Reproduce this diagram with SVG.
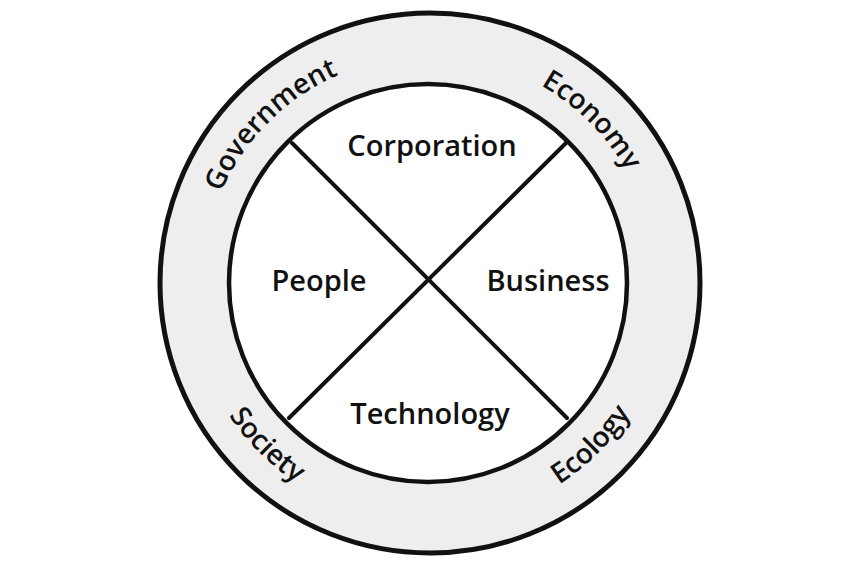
<svg xmlns="http://www.w3.org/2000/svg" width="856" height="571" viewBox="0 0 856 571">
  <style>
    .lbl { font-family: "Open Sans", "Noto Sans", "Liberation Sans", sans-serif; font-weight: 600; font-size: 29px; fill: #111; }
    .rl { font-size: 28px; }
    .ring { fill: #eeeeee; stroke: #111; stroke-width: 5; }
    .inner { fill: #ffffff; stroke: #111; stroke-width: 4.5; }
    .conn { stroke: #111; stroke-width: 4; stroke-linecap: round; fill: none; }
  </style>
  <defs>
    <path id="arcGov" d="M 215.7 360.6 A 227 227 0 0 1 506.6 69.7"/>
    <path id="arcEco" d="M 351.4 69.7 A 227 227 0 0 1 642.3 360.6"/>
    <path id="arcSoc" d="M 203.5 200.9 A 240 240 0 0 0 511.1 508.5"/>
    <path id="arcEcol" d="M 346.9 508.5 A 240 240 0 0 0 654.5 200.9"/>
  </defs>
  <rect width="856" height="571" fill="#ffffff"/>
  <g id="outer-ring">
    <circle class="ring" cx="430" cy="283" r="270"/>
  </g>
  <g id="inner-circle">
    <circle class="inner" cx="428" cy="283" r="199"/>
  </g>
  <g id="connectors">
    <line class="conn" x1="292" y1="143" x2="567" y2="418"/>
    <line class="conn" x1="567" y1="142" x2="289" y2="418"/>
  </g>
  <g id="government">
    <text class="lbl rl"><textPath href="#arcGov" startOffset="50%" text-anchor="middle">Government</textPath></text>
  </g>
  <g id="economy">
    <text class="lbl rl"><textPath href="#arcEco" startOffset="50%" text-anchor="middle">Economy</textPath></text>
  </g>
  <g id="society">
    <text class="lbl rl"><textPath href="#arcSoc" startOffset="50%" text-anchor="middle">Society</textPath></text>
  </g>
  <g id="ecology">
    <text class="lbl rl"><textPath href="#arcEcol" startOffset="50%" text-anchor="middle">Ecology</textPath></text>
  </g>
  <g id="corporation">
    <text class="lbl" x="432" y="156" text-anchor="middle">Corporation</text>
  </g>
  <g id="people">
    <text class="lbl" x="319" y="291" text-anchor="middle">People</text>
  </g>
  <g id="business">
    <text class="lbl" x="548" y="291" text-anchor="middle">Business</text>
  </g>
  <g id="technology">
    <text class="lbl" x="430" y="424" text-anchor="middle">Technology</text>
  </g>
</svg>
